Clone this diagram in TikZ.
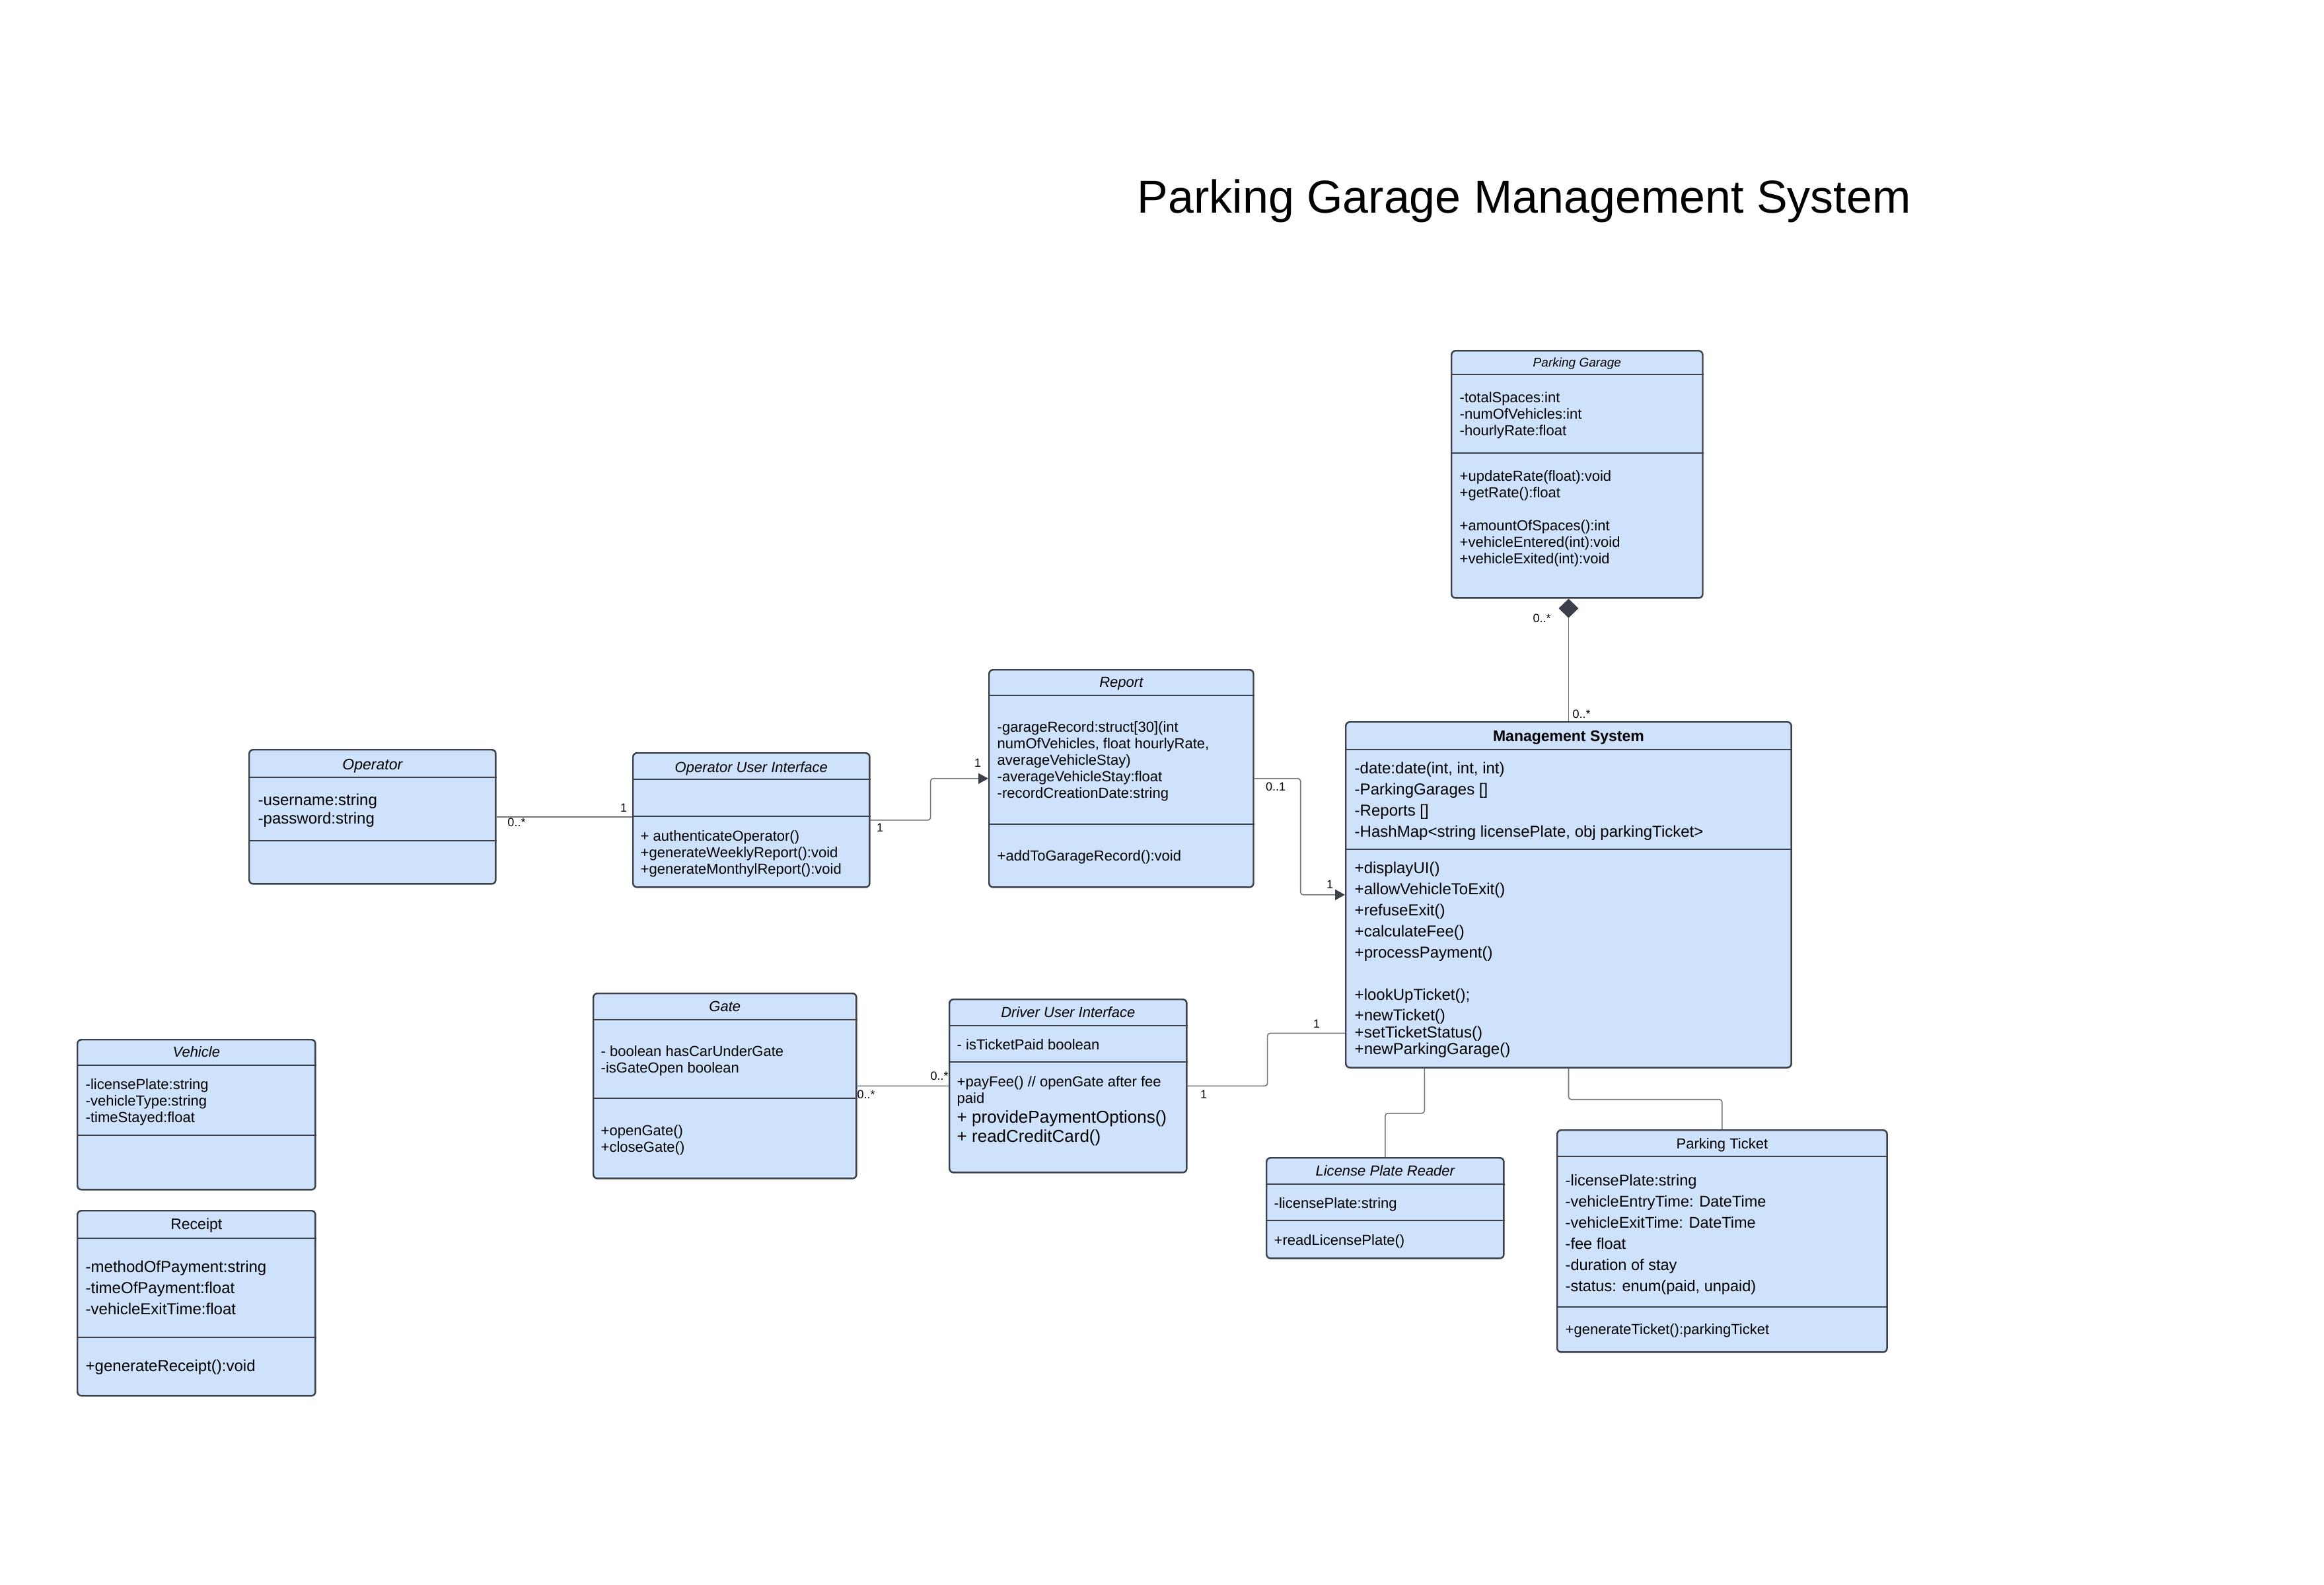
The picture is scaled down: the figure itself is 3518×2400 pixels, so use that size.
\documentclass[tikz,border=0pt]{standalone}
\usepackage{fontspec}
\setmainfont{Liberation Sans}
\usepackage{xcolor}
\usetikzlibrary{arrows.meta, calc}

\definecolor{clsfill}{RGB}{207,226,252}
\definecolor{clsline}{RGB}{58,65,74}
\definecolor{linkgray}{RGB}{112,116,122}

% sizes in px of the 3518 wide sheet (1px = 0.01cm)
\newcommand{\txttitle}{\fontsize{19.9pt}{23pt}\selectfont}
\newcommand{\txtsmall}{\fontsize{6.26pt}{7.11pt}\selectfont}
\newcommand{\txtlarge}{\fontsize{6.83pt}{9.10pt}\selectfont}
\newcommand{\txtlargetight}{\fontsize{6.83pt}{7.26pt}\selectfont}
\newcommand{\txtop}{\fontsize{6.83pt}{7.97pt}\selectfont}
\newcommand{\txtticket}{\fontsize{6.69pt}{9.10pt}\selectfont}
\newcommand{\txtbig}{\fontsize{7.40pt}{8.25pt}\selectfont}
\newcommand{\txthead}{\fontsize{6.26pt}{7.11pt}\selectfont}
\newcommand{\txtheadL}{\fontsize{6.54pt}{7.5pt}\selectfont}
\newcommand{\txtheadS}{\fontsize{5.41pt}{6.5pt}\selectfont}
\newcommand{\txtlabel}{\fontsize{5.12pt}{6pt}\selectfont}

\begin{document}
\begin{tikzpicture}[
    x=0.01cm, y=-0.01cm,
    cls/.style={rectangle, draw=clsline, fill=clsfill, line width=0.7pt, rounded corners=0.6mm, inner sep=0pt, anchor=north west},
    sep/.style={draw=clsline, line width=0.7pt},
    hdr/.style={inner sep=0pt, anchor=base, font=\txthead\itshape},
    txt/.style={inner sep=0pt, anchor=north west, align=left, font=\txtsmall},
    link/.style={draw=linkgray, line width=0.45pt, rounded corners=0.4mm},
    tri/.style={-{Triangle[length=1.5mm, width=1.6mm, color=clsline]}},
    mult/.style={inner sep=0pt, font=\txtlabel}
]
\fill[white] (0,0) rectangle (3518,2400);
\useasboundingbox (0,0) rectangle (3518,2400);

% Title
\node[anchor=base west, inner sep=0pt, font=\txttitle] (title) at (1721,322) {Parking Garage Management System};

% Parking Garage
\node[cls, minimum width=3.80cm, minimum height=3.74cm] (pg) at (2196,530) {};
\draw[sep] (pg.west |- 0,567) -- (pg.east |- 0,567);
\draw[sep] (pg.west |- 0,686) -- (pg.east |- 0,686);
\node[hdr, font=\txtheadS\itshape] (pg-name) at (pg.center |- 0,555) {Parking Garage};
\node[txt] (pg-attr) at (2209,593) {-totalSpaces:int\\-numOfVehicles:int\\-hourlyRate:float};
\node[txt] (pg-ops) at (2209,712) {+updateRate(float):void\\+getRate():float\\[7.11pt]+amountOfSpaces():int\\+vehicleEntered(int):void\\+vehicleExited(int):void};

% Management System
\node[cls, minimum width=6.74cm, minimum height=5.23cm] (ms) at (2036,1092) {};
\draw[sep] (ms.west |- 0,1135) -- (ms.east |- 0,1135);
\draw[sep] (ms.west |- 0,1286) -- (ms.east |- 0,1286);
\node[hdr, font=\txtheadL\bfseries] (ms-name) at (ms.center |- 0,1122) {Management System};
\node[txt, font=\txtlarge] (ms-attr) at (2050,1153.6) {-date:date(int, int, int)\\-ParkingGarages []\\-Reports []\\-HashMap<string licensePlate, obj parkingTicket>};
\node[txt, font=\txtlarge] (ms-ops) at (2050,1304.6) {+displayUI()\\+allowVehicleToExit()\\+refuseExit()\\+calculateFee()\\+processPayment()};
\node[txt, font=\txtlargetight] (ms-ops2) at (2050,1496.6) {+lookUpTicket();\\[1.56pt]+newTicket()\\+setTicketStatus()\\+newParkingGarage()};

% Report
\node[cls, minimum width=4.00cm, minimum height=3.29cm] (rp) at (1496,1013) {};
\draw[sep] (rp.west |- 0,1053) -- (rp.east |- 0,1053);
\draw[sep] (rp.west |- 0,1248) -- (rp.east |- 0,1248);
\node[hdr] (rp-name) at (rp.center |- 0,1040) {Report};
\node[txt] (rp-attr) at (1509,1092) {-garageRecord:struct[30](int\\numOfVehicles, float hourlyRate,\\averageVehicleStay)\\-averageVehicleStay:float\\-recordCreationDate:string};
\node[txt] (rp-ops) at (1509,1287) {+addToGarageRecord():void};

% Operator
\node[cls, minimum width=3.73cm, minimum height=2.03cm] (op) at (376,1134) {};
\draw[sep] (op.west |- 0,1177) -- (op.east |- 0,1177);
\draw[sep] (op.west |- 0,1273) -- (op.east |- 0,1273);
\node[hdr, font=\txtheadL\itshape] (op-name) at (op.center |- 0,1165) {Operator};
\node[txt, font=\txtop] (op-attr) at (390,1201.6) {-username:string\\-password:string};

% Operator User Interface
\node[cls, minimum width=3.58cm, minimum height=2.03cm] (oui) at (957,1139) {};
\draw[sep] (oui.west |- 0,1180) -- (oui.east |- 0,1180);
\draw[sep] (oui.west |- 0,1236) -- (oui.east |- 0,1236);
\node[hdr] (oui-name) at (oui.center |- 0,1169) {Operator User Interface};
\node[txt] (oui-ops) at (969,1257) {+ authenticateOperator()\\+generateWeeklyReport():void\\+generateMonthylReport():void};

% Gate
\node[cls, minimum width=3.98cm, minimum height=2.80cm] (gt) at (897,1503) {};
\draw[sep] (gt.west |- 0,1544) -- (gt.east |- 0,1544);
\draw[sep] (gt.west |- 0,1663) -- (gt.east |- 0,1663);
\node[hdr] (gt-name) at (gt.center |- 0,1531) {Gate};
\node[txt] (gt-attr) at (909,1583) {- boolean hasCarUnderGate\\-isGateOpen boolean};
\node[txt] (gt-ops) at (909,1703) {+openGate()\\+closeGate()};

% Driver User Interface
\node[cls, minimum width=3.59cm, minimum height=2.62cm] (dui) at (1436,1512) {};
\draw[sep] (dui.west |- 0,1553) -- (dui.east |- 0,1553);
\draw[sep] (dui.west |- 0,1608) -- (dui.east |- 0,1608);
\node[hdr] (dui-name) at (dui.center |- 0,1540) {Driver User Interface};
\node[txt] (dui-attr) at (1448,1573) {- isTicketPaid boolean};
\node[txt] (dui-ops) at (1448,1629) {+payFee() // openGate after fee\\paid};
\node[txt, font=\txtbig] (dui-ops2) at (1448,1680.6) {+ providePaymentOptions()\\+ readCreditCard()};

% Vehicle
\node[cls, minimum width=3.60cm, minimum height=2.27cm] (vh) at (116,1573) {};
\draw[sep] (vh.west |- 0,1613) -- (vh.east |- 0,1613);
\draw[sep] (vh.west |- 0,1719) -- (vh.east |- 0,1719);
\node[hdr] (vh-name) at (vh.center |- 0,1600) {Vehicle};
\node[txt] (vh-attr) at (129,1633) {-licensePlate:string\\-vehicleType:string\\-timeStayed:float};

% Receipt
\node[cls, minimum width=3.60cm, minimum height=2.80cm] (rc) at (116,1832) {};
\draw[sep] (rc.west |- 0,1875) -- (rc.east |- 0,1875);
\draw[sep] (rc.west |- 0,2025) -- (rc.east |- 0,2025);
\node[hdr, font=\txtheadL] (rc-name) at (rc.center |- 0,1861) {Receipt};
\node[txt, font=\txtlarge] (rc-attr) at (129,1908.6) {-methodOfPayment:string\\-timeOfPayment:float\\-vehicleExitTime:float};
\node[txt, font=\txtlarge] (rc-ops) at (129,2058.6) {+generateReceipt():void};

% License Plate Reader
\node[cls, minimum width=3.59cm, minimum height=1.52cm] (lpr) at (1916,1752) {};
\draw[sep] (lpr.west |- 0,1793) -- (lpr.east |- 0,1793);
\draw[sep] (lpr.west |- 0,1848) -- (lpr.east |- 0,1848);
\node[hdr] (lpr-name) at (lpr.center |- 0,1780) {License Plate Reader};
\node[txt] (lpr-attr) at (1928,1813) {-licensePlate:string};
\node[txt] (lpr-ops) at (1928,1869) {+readLicensePlate()};

% Parking Ticket
\node[cls, minimum width=4.99cm, minimum height=3.36cm] (pt) at (2356,1710) {};
\draw[sep] (pt.west |- 0,1751) -- (pt.east |- 0,1751);
\draw[sep] (pt.west |- 0,1979) -- (pt.east |- 0,1979);
\node[hdr, font=\txthead] (pt-name) at (pt.center |- 0,1739) {Parking Ticket};
\node[txt, font=\txtticket] (pt-attr) at (2369,1778) {-licensePlate:string\\-vehicleEntryTime: DateTime\\-vehicleExitTime: DateTime\\-fee float\\-duration of stay\\-status: enum(paid, unpaid)};
\node[txt] (pt-ops) at (2369,2004) {+generateTicket():parkingTicket};

% Connectors
\draw[link] (op.east) -- (op.east -| oui.west);
\node[mult] (op-m1) at (782,1245) {0..*};
\node[mult] (oui-m1) at (944,1223) {1};

\draw[link, tri] (oui.east) -- ++(91,0) |- (rp.west);
\node[mult] (oui-m2) at (1332,1253) {1};
\node[mult] (rp-m1) at (1480,1155) {1};

\draw[link, tri] (rp.east) -- ++(70,0) |- (ms.west);
\node[mult] (rp-m2) at (1931,1191) {0..1};
\node[mult] (ms-m1) at (2013,1339) {1};

\draw[link, -{Diamond[length=2.9mm, width=3mm, color=clsline]}] (ms.north) -- (ms.north |- pg.south);
\node[mult] (pg-m1) at (2334,936) {0..*};
\node[mult] (ms-m2) at (2394,1081) {0..*};

\draw[link] (dui.east) -- ++(121,0) |- ([yshift=-2.095cm]ms.west);
\node[mult] (dui-m1) at (1822,1657) {1};
\node[mult] (ms-m3) at (1993,1550) {1};

\draw[link] (gt.east) -- (dui.west);
\node[mult] (gt-m1) at (1311,1657) {0..*};
\node[mult] (dui-m2) at (1422,1629) {0..*};

\draw[link] ([xshift=-2.18cm]ms.south) -- ++(0,68) -| (lpr.north);
\draw[link] (ms.south) -- ++(0,47) -| (pt.north);

\end{tikzpicture}
\end{document}
